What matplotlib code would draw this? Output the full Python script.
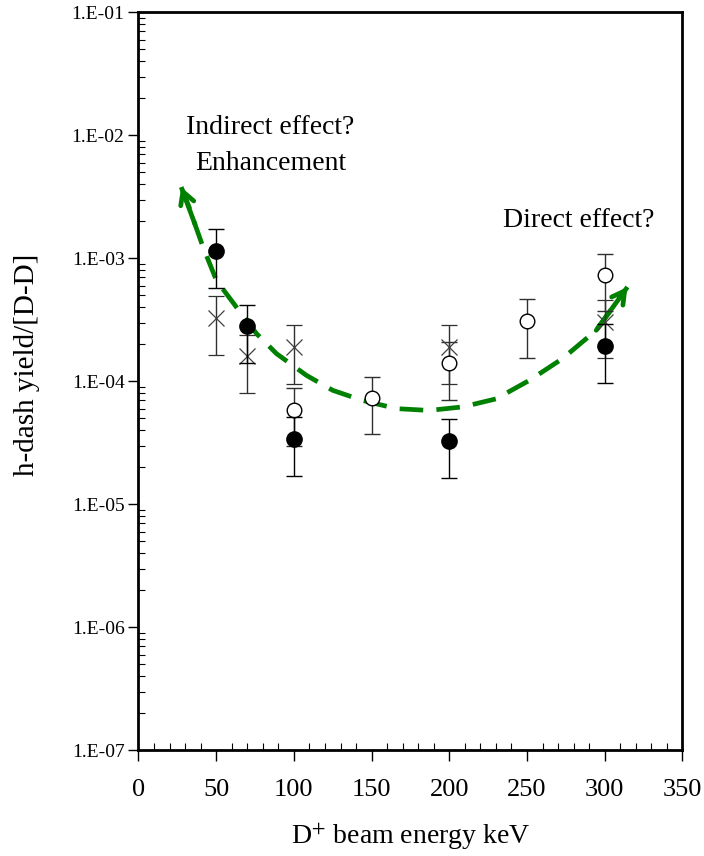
import numpy as np
import matplotlib
matplotlib.use("Agg")
import matplotlib.pyplot as plt
from matplotlib.ticker import FixedLocator, FuncFormatter, MultipleLocator

plt.rcParams['font.family'] = ['Liberation Serif', 'DejaVu Serif']
plt.rcParams['mathtext.fontset'] = 'stix'

# filled circles
filled_x = [50, 70, 100, 200, 300]
filled_y = [1.15e-3, 2.8e-4, 3.4e-5, 3.3e-5, 1.95e-4]
filled_err = [5.8e-4, 1.4e-4, 1.7e-5, 1.65e-5, 9.8e-5]

# open circles
open_x = [100, 150, 200, 250, 300]
open_y = [5.9e-5, 7.3e-5, 1.4e-4, 3.1e-4, 7.3e-4]
open_err = [2.9e-5, 3.6e-5, 7.0e-5, 1.55e-4, 3.6e-4]

# crosses
cross_x = [50, 70, 100, 200, 300]
cross_y = [3.3e-4, 1.6e-4, 1.9e-4, 1.9e-4, 3.05e-4]
cross_err = [1.65e-4, 8.0e-5, 9.5e-5, 9.5e-5, 1.5e-4]

# hand-drawn trend curve (green dashed, arrows at both ends)
curve_x = [27.5, 32.6, 36.3, 41.6, 50.2, 63.1, 76, 88.8, 108, 125, 144, 166,
           187, 208.6, 230, 251.6, 272.8, 294.5, 314.6]
curve_y = [3.8e-3, 2.6e-3, 1.9e-3, 1.23e-3, 6.6e-4, 4.0e-4, 2.44e-4, 1.68e-4,
           1.12e-4, 8.45e-5, 7.0e-5, 6.0e-5, 5.8e-5, 6.2e-5, 7.2e-5, 1.02e-4,
           1.53e-4, 2.6e-4, 5.85e-4]

y_ticks = [1e-7, 1e-6, 1e-5, 1e-4, 1e-3, 1e-2, 1e-1]

fig = plt.figure(figsize=(7.04, 8.56), dpi=100)
ax = fig.add_axes([0.1967, 0.1235, 0.7727, 0.862])

green = '#008000'
ax.plot(curve_x, curve_y, color=green, lw=3.4, ls=(0, (5, 2.8)), zorder=1)
ax.annotate('', xy=(curve_x[0], curve_y[0]), xytext=(curve_x[2], curve_y[2]),
            arrowprops=dict(arrowstyle='->,head_length=0.9,head_width=0.5',
                            color=green, lw=3.4, shrinkA=0, shrinkB=0))
ax.annotate('', xy=(curve_x[-1], curve_y[-1]), xytext=(curve_x[-2], curve_y[-2]),
            arrowprops=dict(arrowstyle='->,head_length=0.9,head_width=0.5',
                            color=green, lw=3.4, shrinkA=0, shrinkB=0))

ax.errorbar(cross_x, cross_y, yerr=cross_err, fmt='x', ms=12, mew=0.9,
            mec='#404040', ecolor='#303030', elinewidth=1, capsize=6, capthick=1, zorder=3)
ax.errorbar(open_x, open_y, yerr=open_err, fmt='o', ms=10.5, mfc='white', mec='black',
            mew=1, ecolor='#303030', elinewidth=1, capsize=6, capthick=1, zorder=3)
ax.errorbar(filled_x, filled_y, yerr=filled_err, fmt='o', ms=11, mfc='black', mec='black',
            ecolor='black', elinewidth=1, capsize=6, capthick=1, zorder=4)

ax.set_yscale('log')
ax.set_xlim(0, 350)
ax.set_ylim(1e-7, 1e-1)
ax.xaxis.set_major_locator(MultipleLocator(50))
ax.xaxis.set_minor_locator(MultipleLocator(10))
ax.yaxis.set_major_locator(FixedLocator(y_ticks))
ax.yaxis.set_major_formatter(FuncFormatter(lambda v, p: f"1.E-{-int(round(np.log10(v))):02d}"))

ax.tick_params(axis='x', which='major', direction='out', length=8, width=1, labelsize=19, pad=13)
ax.tick_params(axis='y', which='major', direction='out', length=7, width=1, labelsize=14, pad=3)
ax.tick_params(which='minor', direction='in', length=5, width=0.8)
for s in ax.spines.values():
    s.set_linewidth(2)

ax.set_xlabel('D$^{+}$ beam energy keV', fontsize=20, labelpad=14)
ax.set_ylabel('h-dash yield/[D-D]', fontsize=21)
ax.yaxis.set_label_coords(-0.181, 0.522)

ax.text(85, 1.16e-2, 'Indirect effect?', fontsize=20, ha='center', va='center')
ax.text(85, 5.9e-3, 'Enhancement', fontsize=20, ha='center', va='center')
ax.text(283, 2.04e-3, 'Direct effect?', fontsize=20, ha='center', va='center')

fig.savefig('out.png', dpi=100)
